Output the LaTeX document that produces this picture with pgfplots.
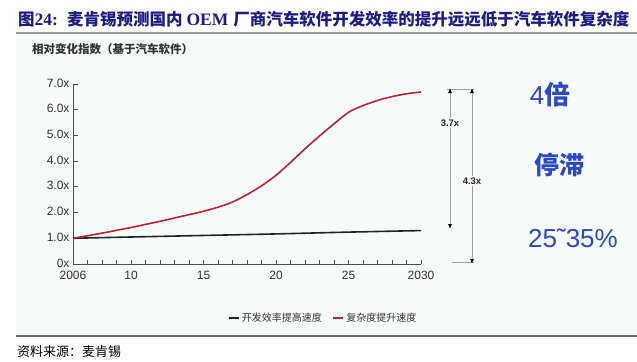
\documentclass[border=0pt]{standalone}
\usepackage{fontspec}
\setmainfont{Liberation Sans}
\newfontfamily\cjk{Noto Sans CJK SC}
\newfontfamily\serifb{Liberation Serif}
\usepackage{pgfplots}
\pgfplotsset{compat=1.18}
\usetikzlibrary{arrows.meta}
\definecolor{navy}{HTML}{1C1C84}
\definecolor{bluetxt}{HTML}{2C48C4}
\definecolor{bgc}{HTML}{F8FBFB}
\definecolor{axisgray}{HTML}{505050}
\definecolor{labelgray}{HTML}{333333}
\definecolor{redline}{HTML}{C0222E}
\definecolor{blackline}{HTML}{1A2828}
\definecolor{arrowgray}{HTML}{A0A0A0}

\pgfplotstableread{
year val
2006 1.00
2007 1.10
2008 1.20
2009 1.31
2010 1.42
2011 1.54
2012 1.66
2013 1.79
2014 1.92
2015 2.05
2016 2.21
2017 2.41
2018 2.70
2019 3.04
2020 3.45
2021 3.95
2022 4.48
2023 4.98
2024 5.45
2025 5.90
2026 6.16
2027 6.36
2028 6.51
2029 6.62
2030 6.69
}\complexity

\pgfplotstableread{
year val
2006 1.00
2010 1.05
2015 1.11
2020 1.17
2025 1.24
2030 1.30
}\efficiency

\begin{document}
\begin{tikzpicture}
\begin{scope}[x=1bp,y=1bp]
\useasboundingbox (0,0) rectangle (637,361);
\fill[bgc] (16,25) rectangle (637,326);
% title
\node[anchor=base west, inner sep=0pt, text=navy] at (18,336) {%
{\cjk\bfseries\fontsize{16.5bp}{18bp}\selectfont 图}{\serifb\bfseries\fontsize{17.5bp}{18bp}\selectfont 24:}\hspace{9bp}%
{\cjk\bfseries\fontsize{16.5bp}{18bp}\selectfont 麦肯锡预测国内}\hspace{4bp}{\serifb\bfseries\fontsize{17.5bp}{18bp}\selectfont OEM}\hspace{5bp}%
{\cjk\bfseries\fontsize{16.5bp}{18bp}\selectfont 厂商汽车软件开发效率的提升远远低于汽车软件复杂度}};
\draw[line width=1.6bp, draw=gray!80] (16,328) -- (637,328);
% subtitle
\node[anchor=west, inner sep=0pt, text=labelgray] at (32,312) {\cjk\bfseries\fontsize{11.5bp}{13bp}\selectfont 相对变化指数（基于汽车软件）};
% bottom
\draw[line width=1.2bp, draw=gray!85!black] (16,25) -- (637,25);
\node[anchor=west, inner sep=0pt, text=black] at (17,9) {\cjk\fontsize{13bp}{15bp}\selectfont 资料来源：麦肯锡};
\end{scope}

\begin{axis}[
  at={(73bp,97bp)}, anchor=south west,
  scale only axis, width=348bp, height=180bp,
  xmin=2006, xmax=2030, ymin=0, ymax=7,
  axis x line*=bottom, axis y line*=left,
  axis line style={draw=axisgray, line width=0.9bp},
  xtick={2006,2010,2015,2020,2025,2030},
  xticklabels={2006,10,15,20,25,2030},
  minor xtick={2007,...,2029},
  ytick={0,1,2,3,4,5,6,7},
  yticklabels={0x,1.0x,2.0x,3.0x,4.0x,5.0x,6.0x,7.0x},
  tick align=inside,
  major tick length=4.5bp, minor tick length=4.5bp,
  every tick/.style={draw=axisgray, line width=0.8bp},
  /pgf/number format/assume math mode=true,
  ticklabel style={font=\fontsize{12bp}{14bp}\selectfont, text=labelgray},
  xticklabel style={yshift=-3.5bp},
  yticklabel style={yshift=1bp},
  clip=false,
  legend columns=2,
  legend style={at={(0.718,-0.30)}, anchor=center, draw=none, fill=none,
    font=\cjk\fontsize{10bp}{12bp}\selectfont, text=labelgray,
    /tikz/every even column/.append style={column sep=8bp}},
  legend image code/.code={\draw[#1, line width=2.6bp] (0bp,0bp) -- (10bp,0bp);},
]
\addplot[blackline, line width=1.6bp, smooth] table[x=year, y=val] {\efficiency};
\addlegendentry{开发效率提高速度}
\addplot[redline, line width=1.6bp, smooth] table[x=year, y=val] {\complexity};
\addlegendentry{复杂度提升速度}
\end{axis}

\begin{scope}[x=1bp,y=1bp]
% arrows
\draw[arrowgray, line width=0.9bp] (447,272) -- (474,272);
\draw[arrowgray, line width=0.9bp] (452,99) -- (474,99);
\draw[arrowgray, line width=0.9bp, {Latex[black,length=5bp,width=4bp]}-{Latex[black,length=5bp,width=4bp]}] (450,273) -- (450,132);
\draw[arrowgray, line width=0.9bp, {Latex[black,length=5bp,width=4bp]}-{Latex[black,length=5bp,width=4bp]}] (472,273) -- (472,97);
\node[fill=bgc, inner sep=1.5bp, font=\bfseries\fontsize{9.5bp}{11bp}\selectfont, text=black!85] at (450,238) {3.7x};
\node[fill=bgc, inner sep=1.5bp, font=\bfseries\fontsize{9.5bp}{11bp}\selectfont, text=black!85] at (472,180) {4.3x};
% blue annotations
\node[text=bluetxt, inner sep=0pt] at (550,267) {\fontsize{26bp}{28bp}\selectfont 4{\cjk\bfseries 倍}};
\node[text=bluetxt, inner sep=0pt] at (559,196) {\cjk\bfseries\fontsize{25bp}{28bp}\selectfont 停滞};
\node[text=bluetxt, inner sep=0pt] at (573,123) {\fontsize{26bp}{28bp}\selectfont 25˜35\%};
\end{scope}
\end{tikzpicture}
\end{document}
